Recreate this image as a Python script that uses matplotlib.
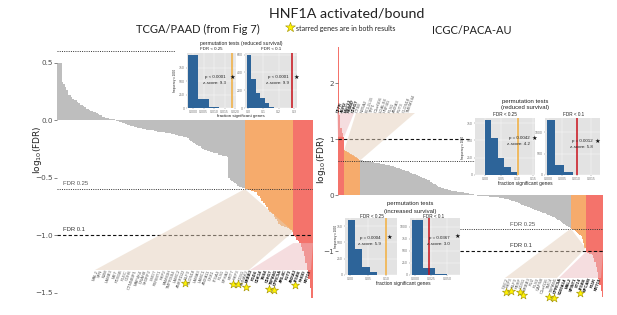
import matplotlib.pyplot as plt
import numpy as np
from matplotlib.patches import Polygon

W, H = 617, 315

# ---------------- TCGA/PAAD : signed log10(FDR), sorted ----------------
tcga_gray = [0.5, 0.5, 0.5, 0.33, 0.31, 0.29, 0.26, 0.22, 0.22, 0.2, 0.18, 0.17, 0.17,
             0.16, 0.15, 0.13, 0.13, 0.12, 0.11, 0.1, 0.1, 0.09, 0.08, 0.08, 0.07, 0.07,
             0.06, 0.05, 0.04, 0.04, 0.03, 0.03, 0.02, 0.02, 0.01, 0.01, 0.01, 0.005, 0.003,
             -0.005, -0.01, -0.015, -0.02,
             -0.03, -0.03, -0.035, -0.04, -0.045, -0.05, -0.05, -0.055, -0.06,
             -0.06, -0.065, -0.07, -0.07, -0.075, -0.08, -0.08, -0.085, -0.085, -0.09, -0.09,
             -0.09, -0.095, -0.095, -0.1, -0.1, -0.1, -0.105, -0.105, -0.11, -0.11, -0.11,
             -0.115, -0.12, -0.12, -0.125, -0.13, -0.13, -0.135, -0.14, -0.14, -0.145, -0.15,
             -0.15, -0.16, -0.17, -0.18, -0.19, -0.2, -0.21, -0.22, -0.23, -0.23, -0.24,
             -0.25, -0.26, -0.26, -0.27, -0.27, -0.28, -0.28, -0.29,
             -0.29, -0.29, -0.3, -0.3, -0.3, -0.31, -0.31, -0.31, -0.32,
             -0.5, -0.52, -0.53, -0.54, -0.55, -0.56, -0.57, -0.58, -0.58, -0.59, -0.59]
tcga_orange = [-0.6, -0.6, -0.61, -0.61, -0.62, -0.62, -0.63, -0.63,
               -0.65, -0.66, -0.68, -0.7, -0.72, -0.74,
               -0.76, -0.78, -0.8, -0.81, -0.82, -0.84,
               -0.86, -0.88, -0.9, -0.91, -0.92, -0.92,
               -0.93, -0.93, -0.94, -0.95, -0.96, -0.97]
tcga_red = [-1.01, -1.02, -1.04, -1.05, -1.07, -1.1, -1.14, -1.18, -1.24, -1.3, -1.38, -1.46, -1.55]

tcga_genes_orange = ["MAL2", "SFN", "B2M", "LAMB3", "MET", "PDS5B", "PLEC", "CDH6", "CTNNBIP1",
                     "MAP4K4", "DNAH8", "SH3RF2", "LMO7", "FERMT1", "PKP2", "FAM83H", "TMPRSS4",
                     "LAMC2", "ANKRD22", "ELF3", "CLDN18", "LAMA3", "LAMC1", "ANXA11", "DKK1",
                     "ITGA3", "PLS1", "EPHA2", "KRT7", "PKP3", "CDS1", "AHNAK2"]
tcga_genes_red = ["ERBB3", "FGD6", "CDK14", "TNS4", "CDH17", "TSPAN1", "GPRC5A", "ARL4C",
                  "FUT3", "ANXA3", "ITGB6", "RHOD", "KRT19"]

# ---------------- ICGC/PACA-AU ----------------
icgc_up_red = [2.65, 1.42, 1.2, 1.1, 1.04]
icgc_up_orange = [0.8, 0.78, 0.77, 0.76, 0.75, 0.74, 0.72, 0.71, 0.7, 0.68, 0.66, 0.64, 0.62]
icgc_gray = [0.62, 0.62, 0.61, 0.61, 0.61, 0.6, 0.6, 0.6, 0.59, 0.59, 0.59, 0.58, 0.58, 0.58, 0.57, 0.57,
             0.56, 0.56, 0.55, 0.55, 0.54, 0.54, 0.53, 0.53, 0.52, 0.52, 0.51, 0.5, 0.5, 0.49, 0.49, 0.48,
             0.47, 0.46, 0.45, 0.44, 0.43, 0.42, 0.42, 0.41, 0.4, 0.39, 0.38, 0.38, 0.37, 0.36,
             0.35, 0.34, 0.33, 0.32, 0.31, 0.3, 0.29, 0.28,
             0.27, 0.26, 0.24, 0.23, 0.22, 0.2, 0.19, 0.18, 0.16, 0.15,
             0.14, 0.13, 0.12, 0.12, 0.11, 0.1, 0.1, 0.09,
             0.09, 0.08, 0.08, 0.07, 0.07, 0.07, 0.06, 0.06, 0.06, 0.05, 0.05, 0.05, 0.04,
             0.04, 0.03, 0.03, 0.02, 0.02, 0.01, 0.01,
             -0.005, -0.005, -0.01, -0.01, -0.01, -0.015, -0.015, -0.02, -0.02, -0.02,
             -0.025, -0.025, -0.03, -0.03, -0.03, -0.035, -0.035, -0.04, -0.04, -0.04,
             -0.05, -0.05, -0.06, -0.06, -0.07, -0.07, -0.08, -0.08, -0.09, -0.09, -0.1, -0.1, -0.11, -0.12,
             -0.13, -0.14, -0.15, -0.16, -0.17, -0.18, -0.19, -0.2, -0.2, -0.21, -0.22, -0.23, -0.24,
             -0.25, -0.26, -0.27, -0.27, -0.28, -0.29, -0.3, -0.31, -0.32, -0.32, -0.33, -0.34, -0.35, -0.36,
             -0.37, -0.38, -0.39, -0.4, -0.41, -0.42, -0.44, -0.45, -0.46, -0.48,
             -0.5, -0.52, -0.53, -0.55, -0.56, -0.58, -0.59]
icgc_down_orange = [-0.6, -0.61, -0.63, -0.64, -0.66, -0.68, -0.7, -0.72, -0.74, -0.78, -0.85, -0.95]
icgc_down_red = [-1.02, -1.03, -1.04, -1.05, -1.06, -1.08, -1.12, -1.2, -1.28, -1.38, -1.5, -1.6, -1.72, -1.82]

icgc_genes_up_red = ["CFTR", "AGR2", "MUC13", "RBM47", "CDH17"]
icgc_genes_up_orange = ["CTSE", "NR5A2", "BCL2L15", "TFF1", "C1orf106", "LGALS4", "HNF4G",
                        "PLS1", "ANXA3", "FUT3", "CLDN18", "TMEM144"]
icgc_genes_down_orange = ["DSC2", "PKP3", "ELF3", "PERP", "CDS1", "ERBB3", "FUZ", "PLS3",
                          "CAPN8", "C1orf116", "TMC4", "TSPAN1"]
icgc_genes_down_red = ["GPRC5A", "S100A14", "MAL2", "SPINT1", "ST14", "ITGB6", "EPCAM", "F11R", "KRT19"]

starred = ["ELF3", "PKP3", "CDS1", "ERBB3", "TSPAN1", "GPRC5A", "ITGB6"]

fdr_levels = [0.25, 0.1]

# ---------------- permutation histograms (frequency) ----------------
tcga_red_025_edges = [-0.0025, 0.0025, 0.0075, 0.0125]
tcga_red_025_counts = [990, 165, 12]
tcga_red_01_edges = [-0.01, 0.02, 0.05, 0.08, 0.11, 0.14, 0.17]
tcga_red_01_counts = [600, 330, 170, 110, 55, 15]
icgc_red_025_edges = [0.0, 0.02, 0.04, 0.06, 0.08, 0.1]
icgc_red_025_counts = [800, 535, 240, 120, 40]
icgc_red_01_edges = [-0.0004, 0.0026, 0.0056, 0.0086]
icgc_red_01_counts = [1300, 235, 60]
icgc_inc_025_edges = [-0.006, 0.014, 0.034, 0.054, 0.074]
icgc_inc_025_counts = [850, 400, 120, 40]
icgc_inc_01_edges = [-0.005, 0.0125, 0.031, 0.049]
icgc_inc_01_counts = [1150, 140, 15]

GRAY = '#BEBEBE'
ORANGE = '#F6AB6C'
RED = '#F4736B'
TAN = '#E4CFBA'
PINK = '#EDBCC1'
BLUE = '#2D6499'
LINE_OR = '#F2AE3C'
LINE_RED = '#C8101A'


def rect(x0, y0, x1, y1):
    return [x0 / W, 1 - y1 / H, (x1 - x0) / W, (y1 - y0) / H]


fig = plt.figure(figsize=(W / 100, H / 100), dpi=100)
fig.patch.set_facecolor('white')


def bar_panel(box, groups, ylim, yticks, yticklabels):
    ax = fig.add_axes(rect(*box))
    vals, cols = [], []
    for v, c in groups:
        vals += v
        cols += [c] * len(v)
    ax.bar(np.arange(len(vals)), vals, width=1.0, color=cols, linewidth=0)
    ax.set_xlim(-0.5, len(vals) - 0.5)
    ax.set_ylim(*ylim)
    ax.set_xticks([])
    ax.set_yticks(yticks)
    ax.set_yticklabels(yticklabels)
    ax.tick_params(axis='y', length=2, width=0.5, color='#555', labelsize=5.2,
                   labelcolor='#4D4D4D', pad=1)
    for s in ax.spines.values():
        s.set_visible(False)
    ax.patch.set_visible(False)
    return ax


axL = bar_panel((57, 40, 313, 300),
                [(tcga_gray, GRAY), (tcga_orange, ORANGE), (tcga_red, RED)],
                (-1.565, 0.696), [0.5, 0, -0.5, -1, -1.5],
                ['0.5', '0.0', '\u22120.5', '\u22121.0', '\u22121.5'])
axR = bar_panel((338, 40, 603, 300),
                [(icgc_up_red, RED), (icgc_up_orange, ORANGE), (icgc_gray, GRAY),
                 (icgc_down_orange, ORANGE), (icgc_down_red, RED)],
                (-1.875, 2.768), [2, 1, 0, -1], ['2', '1', '0', '\u22121'])

dotted = (0, (1, 1.3))
dashed = (0, (3, 2))
thr = [np.log10(f) for f in fdr_levels]
tl = axL.get_yaxis_transform()
axL.plot([0, 0.46], [-thr[0], -thr[0]], transform=tl, ls=dotted, color='#333', lw=0.7)
axL.plot([0, 1], [thr[0], thr[0]], transform=tl, ls=dotted, color='#333', lw=0.7)
axL.plot([0, 1], [thr[1], thr[1]], transform=tl, ls=dashed, color='#111', lw=0.8)
tr = axR.get_yaxis_transform()
axR.plot([0, 0.5], [-thr[1], -thr[1]], transform=tr, ls=dashed, color='#111', lw=0.8)
axR.plot([0, 0.52], [-thr[0], -thr[0]], transform=tr, ls=dotted, color='#333', lw=0.7)
axR.plot([0.46, 1], [thr[0], thr[0]], transform=tr, ls=dotted, color='#333', lw=0.7)
axR.plot([0.46, 1], [thr[1], thr[1]], transform=tr, ls=dashed, color='#111', lw=0.8)

# overlay in pixel coordinates for fans, labels and stars
over = fig.add_axes([0, 0, 1, 1])
over.set_xlim(0, W)
over.set_ylim(H, 0)
over.axis('off')
over.patch.set_visible(False)
over.set_zorder(0.5)


def to_px(ax, x, y):
    d = ax.transData.transform((x, y))
    return over.transData.inverted().transform(d)


def fan(ax, i0, v0, i1, v1, lx0, lx1, ly, color):
    p0 = to_px(ax, i0 - 0.5, v0)
    p1 = to_px(ax, i1 + 0.5, v1)
    poly = Polygon([p0, p1, (lx1, ly), (lx0, ly)], closed=True, facecolor=color,
                   edgecolor='none', alpha=0.5)
    over.add_patch(poly)


def px_text(x, y, s, **kw):
    return fig.text(x, y, s, transform=over.transData, **kw)


# TCGA fans + labels
ng = len(tcga_gray)
no = len(tcga_orange)
x_or = np.linspace(97, 248, len(tcga_genes_orange))
x_rd = np.linspace(252, 310, len(tcga_genes_red))
fan(axL, ng, tcga_orange[0], ng + no - 1, tcga_orange[-1], x_or[0] - 2, x_or[-1] + 1, 270, TAN)
fan(axL, ng + no, tcga_red[4], ng + no + len(tcga_red) - 1, tcga_red[4], x_rd[0] - 2, x_rd[-1] + 1, 270, PINK)

# ICGC fans + labels
nr = len(icgc_up_red)
nuo = len(icgc_up_orange)
nig = len(icgc_gray)
ndo = len(icgc_down_orange)
ntot = nr + nuo + nig + ndo + len(icgc_down_red)
xu_rd = np.linspace(338, 353, nr)
xu_or = np.linspace(357, 413, nuo)
xd_or = np.linspace(507, 556, ndo)
xd_rd = np.linspace(561, 600, len(icgc_genes_down_red))
fan(axR, 0, icgc_up_red[-1], nr - 1, icgc_up_red[-1], xu_rd[0] - 1, xu_rd[-1] + 1, 113, PINK)
fan(axR, nr, icgc_up_orange[0], nr + nuo - 1, icgc_up_orange[-1], xu_or[0] - 1, xu_or[-1] + 2, 113, TAN)
s0 = nr + nuo + nig
fan(axR, s0, icgc_down_orange[0], s0 + ndo - 1, icgc_down_orange[-1], xd_or[0] - 2, xd_or[-1] + 1, 278, TAN)
fan(axR, s0 + ndo, icgc_down_red[0], ntot - 1, icgc_down_red[0], xd_rd[0] - 2, xd_rd[-1] + 1, 278, PINK)

gene_font = dict(fontsize=3.0, family='Liberation Sans', rotation=70, rotation_mode='anchor')
down_texts = []
for names, xs, y, bold in [(tcga_genes_orange, x_or, 270, False), (tcga_genes_red, x_rd, 270, True),
                           (icgc_genes_down_orange, xd_or, 278, False),
                           (icgc_genes_down_red, xd_rd, 278, True)]:
    for n, x in zip(names, xs):
        t = px_text(x, y, n, ha='right', va='center', color='#111' if bold else '#555',
                    fontweight='bold' if bold else 'normal', **gene_font)
        down_texts.append((n, t))
for names, xs, bold in [(icgc_genes_up_red, xu_rd, True), (icgc_genes_up_orange, xu_or, False)]:
    for n, x in zip(names, xs):
        px_text(x, 113, n, ha='left', va='center', color='#111' if bold else '#555',
                fontweight='bold' if bold else 'normal', **gene_font)

# FDR threshold labels
px_text(63, 185, 'FDR 0.25', fontsize=4.2, color='#555', family='Liberation Sans')
px_text(63, 231, 'FDR 0.1', fontsize=4.2, color='#333', family='Liberation Sans')
px_text(510, 226, 'FDR 0.25', fontsize=4.2, color='#555', family='Liberation Sans')
px_text(510, 247, 'FDR 0.1', fontsize=4.2, color='#333', family='Liberation Sans')

# axis titles
px_text(37, 150, 'log$_{10}$(FDR)', rotation=90, ha='center', va='center', fontsize=6.5, color='#222')
px_text(322, 160, 'log$_{10}$(FDR)', rotation=90, ha='center', va='center', fontsize=6.5, color='#222')

# headings
px_text(347, 13, 'HNF1A activated/bound', ha='center', va='center', fontsize=10.3, family='Lato', color='#222')
px_text(198, 29, 'TCGA/PAAD (from Fig 7)', ha='center', va='center', fontsize=8, family='Lato', color='#222')
px_text(472, 30, 'ICGC/PACA-AU', ha='center', va='center', fontsize=8, family='Lato', color='#222')
px_text(296, 28, 'starred genes are in both results', ha='left', va='center', fontsize=5, family='Lato', color='#222')
over.scatter([290], [27], marker='*', s=55, color='#FFF200', edgecolor='#A09000', linewidth=0.4)


def inset(box, edges, counts, xlim, xticks, xlabels, yticks, obs, lc):
    ax = fig.add_axes(rect(*box))
    ax.set_zorder(2)
    ax.set_facecolor('#E3E3E3')
    ax.bar(edges[:-1], counts, width=np.diff(edges), align='edge', color=BLUE, linewidth=0)
    ax.axvline(obs, color=lc, lw=1.1)
    ax.set_xlim(*xlim)
    ax.set_ylim(0, max(counts) * 1.03)
    ax.set_xticks(xticks)
    ax.set_xticklabels(xlabels)
    ax.set_yticks(yticks)
    ax.tick_params(labelsize=2.2, length=1, width=0.3, pad=0.6, colors='#666')
    ax.grid(color='white', lw=0.3)
    ax.set_axisbelow(True)
    for s in ax.spines.values():
        s.set_visible(False)
    return ax


small = dict(family='Liberation Sans', color='#222')

# TCGA insets
inset((187, 53, 236, 108), tcga_red_025_edges, tcga_red_025_counts, (-0.003, 0.0205),
      [0, 0.005, 0.01, 0.015, 0.02], ['0.000', '0.005', '0.010', '0.015', '0.020'],
      [0, 250, 500, 750], 0.0188, LINE_OR)
inset((245, 53, 297, 108), tcga_red_01_edges, tcga_red_01_counts, (-0.02, 0.32),
      [0, 0.1, 0.2, 0.3], ['0.0', '0.1', '0.2', '0.3'], [0, 200, 400, 600], 0.29, LINE_RED)
px_text(241, 44, 'permutation tests (reduced survival)', ha='center', va='center', fontsize=3.7, **small)
px_text(211, 49.5, 'FDR < 0.25', ha='center', va='center', fontsize=3.2, **small)
px_text(271, 49.5, 'FDR < 0.1', ha='center', va='center', fontsize=3.2, **small)
px_text(241, 116.5, 'fraction significant genes', ha='center', va='center', fontsize=3.2, **small)
px_text(175, 80, 'frequency x 1000', rotation=90, ha='center', va='center', fontsize=2.2, **small)
px_text(226, 77, 'p < 0.0001', ha='right', va='center', fontsize=3.2, **small)
px_text(226, 83, 'z-score: 9.3', ha='right', va='center', fontsize=3.2, **small)
px_text(232, 77, '\u2605', ha='center', va='center', fontsize=4.5, color='#111')
px_text(289, 77, 'p < 0.0001', ha='right', va='center', fontsize=3.2, **small)
px_text(289, 83, 'z-score: 9.9', ha='right', va='center', fontsize=3.2, **small)
px_text(296, 77, '\u2605', ha='center', va='center', fontsize=4.5, color='#111')

# ICGC reduced survival insets
inset((475, 118, 535, 175), icgc_red_025_edges, icgc_red_025_counts, (-0.031, 0.156),
      [0, 0.05, 0.1, 0.15], ['0.00', '0.05', '0.10', '0.15'], [0, 250, 500, 750], 0.103, LINE_OR)
inset((545, 118, 600, 175), icgc_red_01_edges, icgc_red_01_counts, (-0.001, 0.0182),
      [0, 0.005, 0.01, 0.015], ['0.000', '0.005', '0.010', '0.015'], [0, 500, 1000], 0.0101, LINE_RED)
px_text(525, 101, 'permutation tests', ha='center', va='center', fontsize=4.3, **small)
px_text(525, 108, '(reduced survival)', ha='center', va='center', fontsize=4.3, **small)
px_text(505, 114, 'FDR < 0.25', ha='center', va='center', fontsize=3.3, **small)
px_text(574, 114, 'FDR < 0.1', ha='center', va='center', fontsize=3.3, **small)
px_text(525, 183, 'fraction significant genes', ha='center', va='center', fontsize=3.5, **small)
px_text(463, 147, 'frequency x 1000', rotation=90, ha='center', va='center', fontsize=2.2, **small)
px_text(530, 138, 'p = 0.0042', ha='right', va='center', fontsize=3.2, **small)
px_text(534, 138, '\u2605', ha='center', va='center', fontsize=4.5, color='#111')
px_text(530, 144, 'z-score: 4.2', ha='right', va='center', fontsize=3.2, **small)
px_text(593, 141, 'p = 0.0012', ha='right', va='center', fontsize=3.2, **small)
px_text(597, 141, '\u2605', ha='center', va='center', fontsize=4.5, color='#111')
px_text(593, 147, 'z-score: 5.8', ha='right', va='center', fontsize=3.2, **small)

# ICGC increased survival insets
inset((345, 218, 397, 275), icgc_inc_025_edges, icgc_inc_025_counts, (-0.014, 0.13),
      [0, 0.05, 0.1], ['0.00', '0.05', '0.10'], [0, 250, 500, 750], 0.1, LINE_OR)
inset((410, 218, 460, 275), icgc_inc_01_edges, icgc_inc_01_counts, (-0.008, 0.07),
      [0, 0.025, 0.05], ['0.000', '0.025', '0.050'], [0, 250, 500, 750, 1000], 0.022, LINE_RED)
px_text(410, 204, 'permutation tests', ha='center', va='center', fontsize=4.3, **small)
px_text(410, 211, '(increased survival)', ha='center', va='center', fontsize=4.3, **small)
px_text(372, 216, 'FDR < 0.25', ha='center', va='center', fontsize=3.3, **small)
px_text(434, 216, 'FDR < 0.1', ha='center', va='center', fontsize=3.3, **small)
px_text(403, 283, 'fraction significant genes', ha='center', va='center', fontsize=3.5, **small)
px_text(336, 236, 'frequency x 1000', rotation=90, ha='center', va='center', fontsize=2.2, **small)
px_text(381, 238, 'p = 0.0004', ha='right', va='center', fontsize=3.2, **small)
px_text(389, 237, '\u2605', ha='center', va='center', fontsize=4.5, color='#111')
px_text(381, 244, 'z-score: 5.9', ha='right', va='center', fontsize=3.2, **small)
px_text(450, 238, 'p = 0.0367', ha='right', va='center', fontsize=3.2, **small)
px_text(457, 236, '\u2605', ha='center', va='center', fontsize=4.5, color='#111')
px_text(450, 244, 'z-score: 3.0', ha='right', va='center', fontsize=3.2, **small)

# stars under genes present in both results
fig.canvas.draw()
renderer = fig.canvas.get_renderer()
sx, sy = [], []
for n, t in down_texts:
    if n in starred:
        bb = t.get_window_extent(renderer)
        p = over.transData.inverted().transform((bb.x0, bb.y0))
        sx.append(p[0] + 0.5)
        sy.append(p[1] + 3)
over.scatter(sx, sy, marker='*', s=38, color='#FFF200', edgecolor='#A09000', linewidth=0.4, clip_on=False)

fig.savefig('out.png', dpi=100)
